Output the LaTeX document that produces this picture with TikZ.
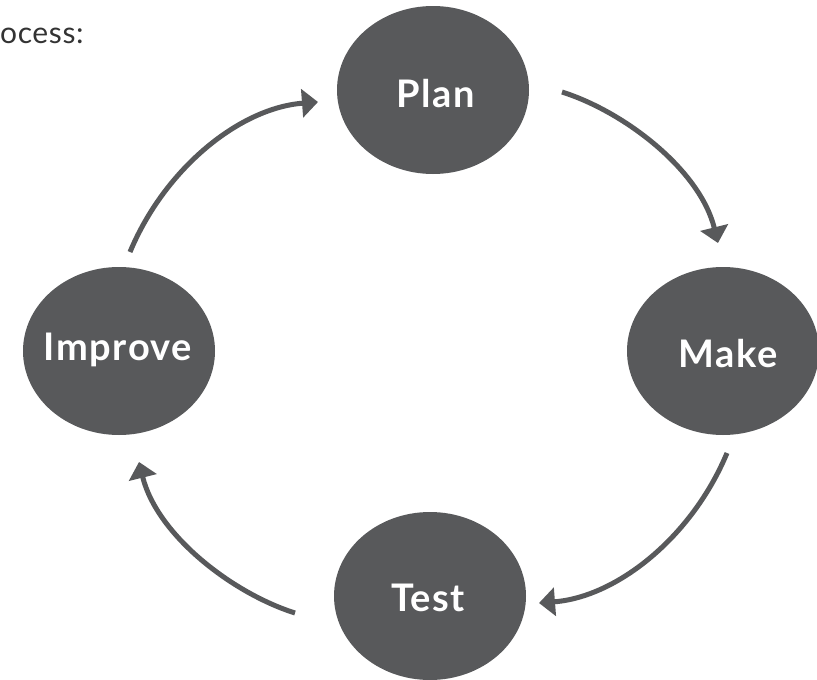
\documentclass[tikz,border=0pt]{standalone}
\usepackage{fontspec}
\setmainfont{Lato}
\usetikzlibrary{shapes.geometric,arrows.meta}
\definecolor{cyclegray}{HTML}{58595B}
\begin{document}
\begin{tikzpicture}[x=1pt,y=-1pt,
  stage/.style={ellipse,fill=cyclegray,inner sep=0pt,minimum width=192pt,minimum height=168pt},
  stagetext/.style={text=white,font=\fontsize{38}{40}\selectfont\bfseries\addfontfeatures{LetterSpace=4},inner sep=0pt},
  cyclearrow/.style={draw=cyclegray,line width=5pt,-{Triangle[length=16pt,width=28pt]}}]
\useasboundingbox (0,0) rectangle (817,680);
\node[stage] (plan) at (433,90) {};
\node[stage] (make) at (723,351) {};
\node[stage] (improve) at (119,351) {};
\node[stage] (test) at (430,596) {};
\node[stagetext,anchor=base] (plant) at (436,107) {Plan};
\node[stagetext,anchor=base] (maket) at (728,367) {Make};
\node[stagetext,anchor=base] (improvet) at (118,360) {Improve};
\node[stagetext,anchor=base] (testt) at (428,611) {Test};
\node[anchor=base west,inner sep=0pt,text=black!80,font=\fontsize{30}{34}\selectfont\addfontfeatures{LetterSpace=2}] (title) at (0,43) {ocess:};
\coordinate (a1s) at (130,252);
\coordinate (a1e) at (318,102);
\coordinate (a2s) at (562,92);
\coordinate (a2e) at (718,243);
\coordinate (a3s) at (727,453);
\coordinate (a3e) at (539,603);
\coordinate (a4s) at (295,613);
\coordinate (a4e) at (139,462);
\draw[cyclearrow] (a1s) .. controls (165,168) and (240,108) .. (a1e);
\draw[cyclearrow] (a2s) .. controls (625,112) and (700,170) .. (a2e);
\draw[cyclearrow] (a3s) .. controls (692,537) and (617,597) .. (a3e);
\draw[cyclearrow] (a4s) .. controls (232,593) and (157,535) .. (a4e);
\end{tikzpicture}
\end{document}
